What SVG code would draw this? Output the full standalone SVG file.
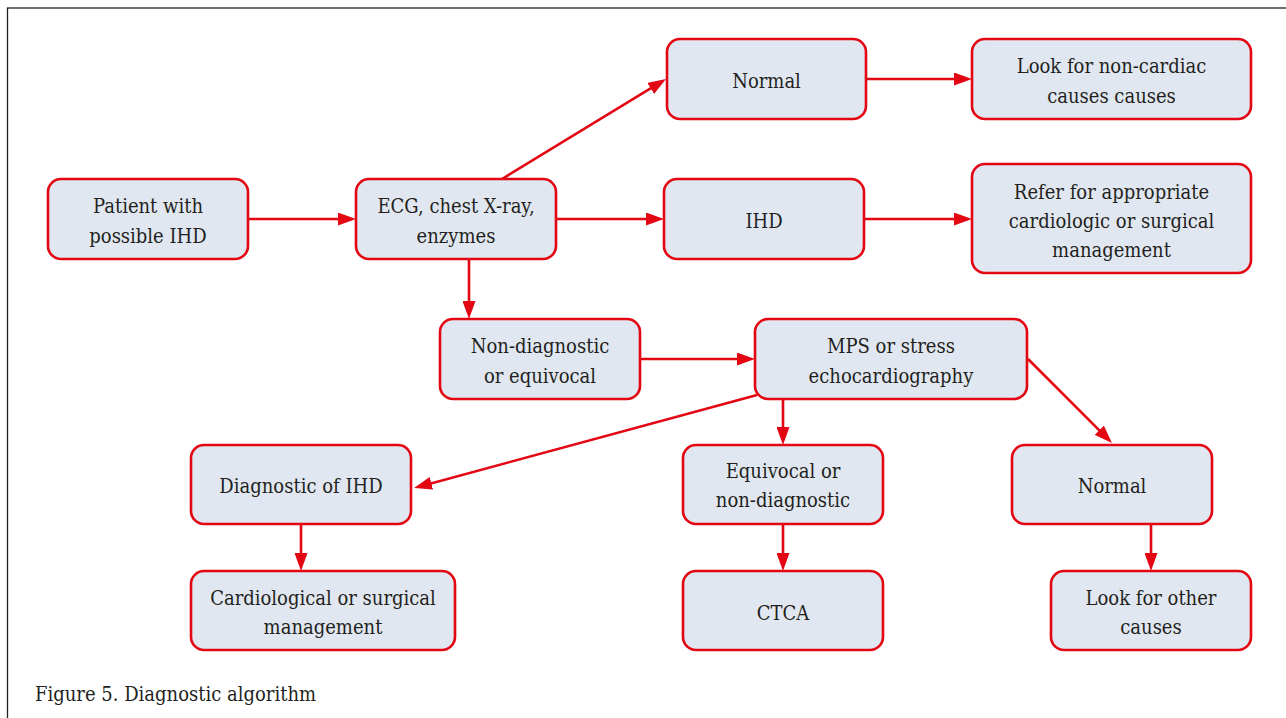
<svg xmlns="http://www.w3.org/2000/svg" width="1286" height="718" viewBox="0 0 1286 718">
<style>
.n rect{fill:#e1e7f0;stroke:#e30613;stroke-width:2.6}
text{font-family:"DejaVu Serif Condensed","DejaVu Serif",serif;font-size:20px;fill:#231f20;text-anchor:middle}
.cap{text-anchor:start}
#connectors line{stroke:#e30613;stroke-width:2.6;fill:none;marker-end:url(#ah)}
</style>
<defs>
<marker id="ah" markerUnits="userSpaceOnUse" viewBox="0 0 18 13" refX="10" refY="6.5" markerWidth="18" markerHeight="13" orient="auto">
<path d="M0,0 L18,6.5 L0,13 z" fill="#e30613"/>
</marker>
</defs>
<rect x="7.5" y="8" width="1290" height="720" fill="#fff" stroke="#222" stroke-width="1.3"/>
<g id="connectors">
<line x1="248" y1="219" x2="348" y2="219"/>
<line x1="502" y1="179" x2="659.17" y2="83.16"/>
<line x1="556" y1="219" x2="656" y2="219"/>
<line x1="866" y1="79" x2="964" y2="79"/>
<line x1="864" y1="219" x2="964" y2="219"/>
<line x1="469" y1="259" x2="469" y2="311"/>
<line x1="640" y1="359" x2="747" y2="359"/>
<line x1="757" y1="395" x2="421.72" y2="485.91"/>
<line x1="783" y1="399" x2="783" y2="437"/>
<line x1="1028" y1="359" x2="1106.34" y2="437.34"/>
<line x1="301" y1="524" x2="301" y2="563"/>
<line x1="783" y1="524" x2="783" y2="563"/>
<line x1="1151" y1="524" x2="1151" y2="563"/>
</g>
<g id="patient" class="n"><rect x="48" y="179" width="200" height="80" rx="13"/><text x="148" y="213">Patient with</text><text x="148" y="243">possible IHD</text></g>
<g id="ecg" class="n"><rect x="356" y="179" width="200" height="80" rx="13"/><text x="456" y="213">ECG, chest X-ray,</text><text x="456" y="243">enzymes</text></g>
<g id="normal1" class="n"><rect x="667" y="39" width="199" height="80" rx="13"/><text x="766.5" y="88">Normal</text></g>
<g id="noncardiac" class="n"><rect x="972" y="39" width="279" height="80" rx="13"/><text x="1111.5" y="73">Look for non-cardiac</text><text x="1111.5" y="103">causes causes</text></g>
<g id="ihd" class="n"><rect x="664" y="179" width="200" height="80" rx="13"/><text x="764" y="228">IHD</text></g>
<g id="refer" class="n"><rect x="972" y="164" width="279" height="109" rx="13"/><text x="1111.5" y="199">Refer for appropriate</text><text x="1111.5" y="228">cardiologic or surgical</text><text x="1111.5" y="257">management</text></g>
<g id="nondiag" class="n"><rect x="440" y="319" width="200" height="80" rx="13"/><text x="540" y="353">Non-diagnostic</text><text x="540" y="383">or equivocal</text></g>
<g id="mps" class="n"><rect x="755" y="319" width="272" height="80" rx="13"/><text x="891" y="353">MPS or stress</text><text x="891" y="383">echocardiography</text></g>
<g id="diagihd" class="n"><rect x="191" y="445" width="220" height="79" rx="13"/><text x="301" y="493">Diagnostic of IHD</text></g>
<g id="equivocal" class="n"><rect x="683" y="445" width="200" height="79" rx="13"/><text x="783" y="478">Equivocal or</text><text x="783" y="507">non-diagnostic</text></g>
<g id="normal2" class="n"><rect x="1012" y="445" width="200" height="79" rx="13"/><text x="1112" y="493">Normal</text></g>
<g id="cardmgmt" class="n"><rect x="191" y="571" width="264" height="79" rx="13"/><text x="323" y="605">Cardiological or surgical</text><text x="323" y="634">management</text></g>
<g id="ctca" class="n"><rect x="683" y="571" width="200" height="79" rx="13"/><text x="783" y="620">CTCA</text></g>
<g id="other" class="n"><rect x="1051" y="571" width="200" height="79" rx="13"/><text x="1151" y="605">Look for other</text><text x="1151" y="634">causes</text></g>
<text class="cap" x="35" y="701">Figure 5. Diagnostic algorithm</text>
</svg>
